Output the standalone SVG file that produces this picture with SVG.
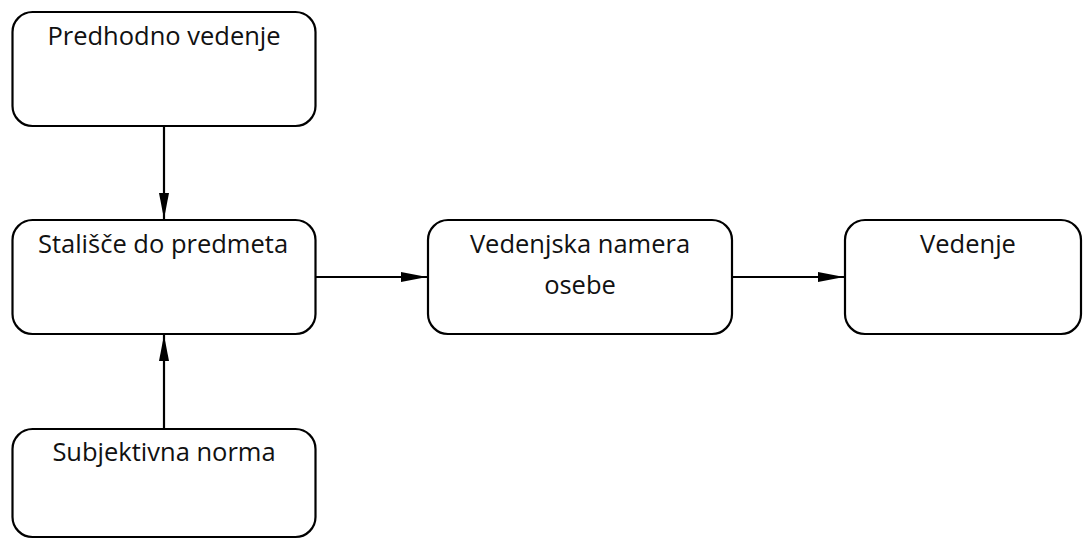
<svg xmlns="http://www.w3.org/2000/svg" width="1083" height="539" viewBox="0 0 1083 539">
  <style>
    .box { fill: #ffffff; stroke: #000000; stroke-width: 2.2; }
    .label { font-family: "Open Sans", "Noto Sans", "Liberation Sans", sans-serif; font-size: 25.5px; fill: #111111; text-anchor: middle; }
    .link { stroke: #000000; stroke-width: 2.2; fill: none; marker-end: url(#arrow); }
  </style>
  <defs>
    <marker id="arrow" markerWidth="26" markerHeight="10" refX="26" refY="5" orient="auto" markerUnits="userSpaceOnUse">
      <path d="M0,0 L26,5 L0,10 Z" fill="#000000"/>
    </marker>
  </defs>
  <rect width="1083" height="539" fill="#ffffff"/>

  <g id="connectors">
    <line class="link" x1="164" y1="127" x2="164" y2="219"/>
    <line class="link" x1="164" y1="428" x2="164" y2="335"/>
    <line class="link" x1="316" y1="277" x2="427" y2="277"/>
    <line class="link" x1="732" y1="277" x2="844" y2="277"/>
  </g>

  <g id="predhodno-vedenje">
    <rect class="box" x="12.5" y="12" width="303" height="114" rx="20"/>
    <text class="label" x="164" y="45">Predhodno vedenje</text>
  </g>

  <g id="stalisce">
    <rect class="box" x="12.5" y="220" width="303" height="114" rx="20"/>
    <text class="label" x="163" y="253">Stališče do predmeta</text>
  </g>

  <g id="vedenjska-namera">
    <rect class="box" x="428" y="220" width="304" height="114" rx="20"/>
    <text class="label" x="580" y="253">Vedenjska namera</text>
    <text class="label" x="580" y="294">osebe</text>
  </g>

  <g id="vedenje">
    <rect class="box" x="845" y="220" width="236" height="114" rx="20"/>
    <text class="label" x="968" y="253">Vedenje</text>
  </g>

  <g id="subjektivna-norma">
    <rect class="box" x="12.5" y="429" width="303" height="108" rx="20"/>
    <text class="label" x="164" y="461">Subjektivna norma</text>
  </g>
</svg>
